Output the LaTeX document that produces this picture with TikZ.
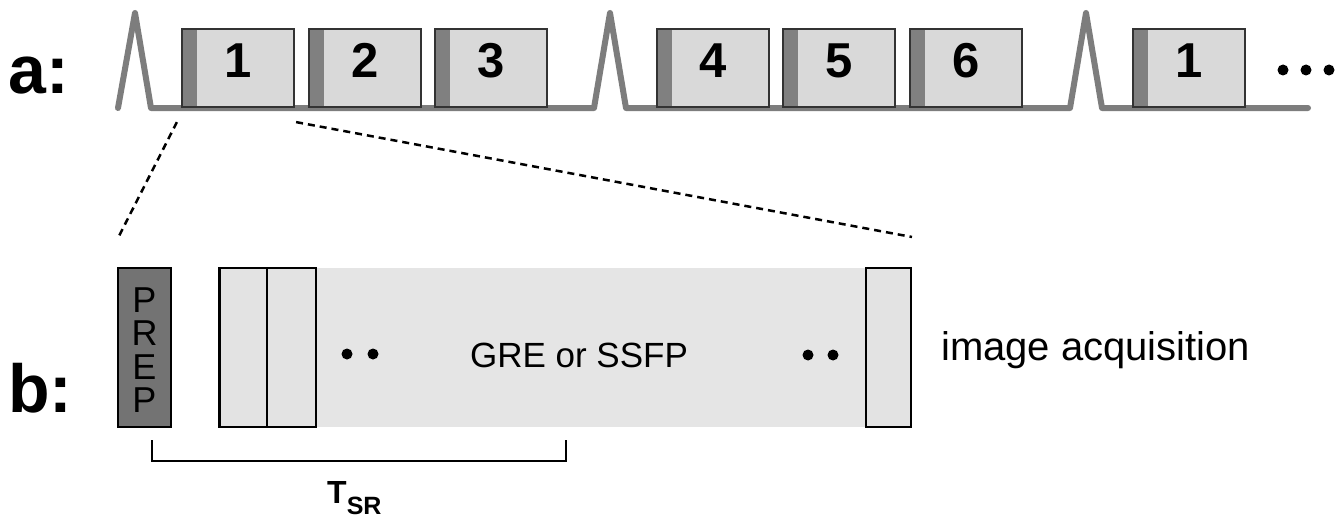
\documentclass[tikz,border=0pt]{standalone}
\usepackage{fontspec}
\setmainfont{Liberation Sans}
\definecolor{pulse}{gray}{0.49}
\definecolor{segfill}{gray}{0.85}
\definecolor{strip}{gray}{0.50}
\definecolor{prepfill}{gray}{0.45}
\definecolor{bandfill}{gray}{0.90}
\definecolor{acqfill}{gray}{0.89}
\begin{document}
\begin{tikzpicture}[x=1pt,y=-1pt,
  pulseline/.style={draw=pulse,line width=6pt,line join=round,line cap=round},
  seg/.style={draw=black!80,line width=2.2pt,fill=segfill,minimum width=112pt,minimum height=78pt,inner sep=0pt,
    font=\bfseries\fontsize{49}{49}\selectfont,text depth=15pt,
    path picture={\fill[strip] (path picture bounding box.north west) rectangle ([xshift=15pt]path picture bounding box.south west);}},
  acqbox/.style={draw=black,line width=2.4pt,fill=acqfill,minimum height=159pt,inner sep=0pt},
  biglabel/.style={font=\bfseries\fontsize{68}{68}\selectfont,anchor=base west,inner sep=0pt},
  zoomline/.style={draw=black,line width=2.5pt,dash pattern=on 7pt off 5pt}]
\useasboundingbox[fill=white] (0,0) rectangle (1339,519);

% labels
\node[biglabel] (la) at (8,93) {a:};
\node[biglabel] (lb) at (8,412) {b:};

% pulse train baseline with RF peaks
\draw[pulseline] (118,108) -- (135,13) -- (151,108) -- (594,108) -- (610,13) -- (626,108)
  -- (1070,108) -- (1086,13) -- (1102,108) -- (1308,108);

% segments
\node[seg] (s1) at (238,68) {1};
\node[seg] (s2) at (365,68) {2};
\node[seg] (s3) at (491,68) {3};
\node[seg] (s4) at (713,68) {4};
\node[seg] (s5) at (839,68) {5};
\node[seg] (s6) at (966,68) {6};
\node[seg] (s7) at (1189,68) {1};
\fill (1283,70) circle (5.5);
\fill (1306,70) circle (5.5);
\fill (1329,70) circle (5.5);

% zoom lines
\coordinate (zl) at (118,238);
\coordinate (zr) at (912,237);
\draw[zoomline] ([shift={(-4,14)}]s1.south west) -- (zl);
\draw[zoomline] ([shift={(1,14)}]s1.south east) -- (zr);

% acquisition
\node[fill=bandfill,minimum width=552pt,minimum height=159pt,inner sep=0pt] (band) at (591,347.5) {};
\node[draw=black,line width=2.4pt,fill=prepfill,minimum width=53pt,minimum height=159pt,inner sep=0pt] (prep) at (144.5,347.5) {};
\node[align=center,font=\fontsize{36}{33.5}\selectfont,inner sep=0pt] (preptext) at (144.5,350) {P\\R\\E\\P};
\node[acqbox,minimum width=48pt] (a1) at (243.5,347.5) {};
\node[acqbox,minimum width=49pt] (a2) at (291.5,347.5) {};
\node[acqbox,minimum width=45pt] (an) at (888.5,347.5) {};
\fill (347,354) circle (5.5);
\fill (373,354) circle (5.5);
\fill (808,355) circle (5.5);
\fill (833,355) circle (5.5);
\node[font=\fontsize{35}{35}\selectfont] (gre) at (579,355) {GRE or SSFP};
\node[font=\fontsize{40}{40}\selectfont,anchor=base west,inner sep=0pt] (img) at (941,360) {image acquisition};

% T_SR bracket
\coordinate (b1) at (152,440);
\coordinate (b2) at (566,440);
\draw[line width=2.2pt] (b1) -- ++(0,21) -| (b2);
\node[font=\bfseries\fontsize{32}{32}\selectfont,anchor=base west,inner sep=0pt] (tsr) at (327,503)
  {T\raisebox{-11pt}{\fontsize{25}{25}\selectfont SR}};
\end{tikzpicture}
\end{document}
